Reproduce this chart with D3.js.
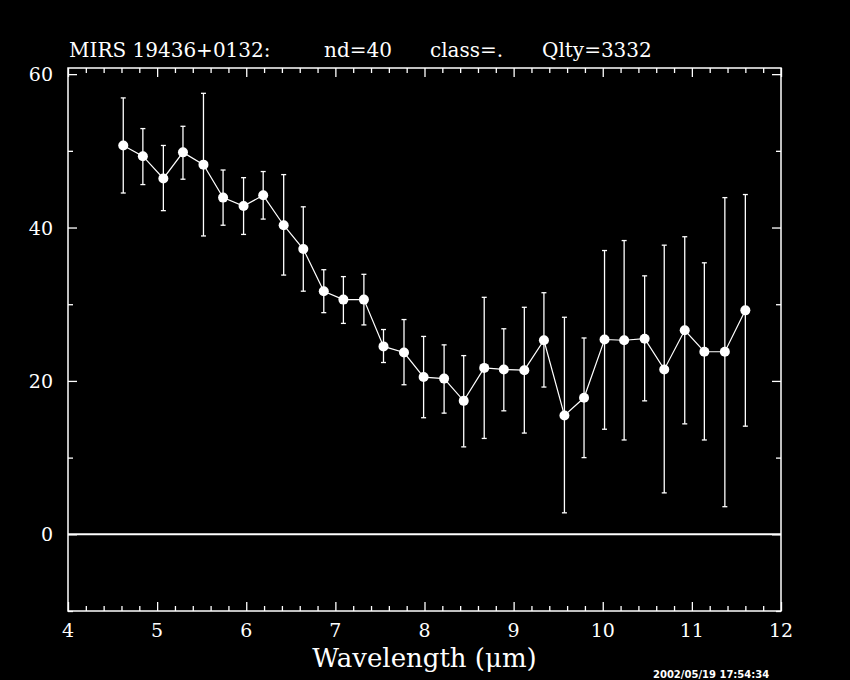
<!DOCTYPE html>
<html>
  <head>
    <title>MIRS 19436+0132</title>
    <script src="https://d3js.org/d3.v7.min.js"></script>
    <style>
      body { margin: 0; background: #000; }
      svg { display: block; background: #000; }
    </style>
  </head>

  <body>
    <svg width="850" height="680"></svg>

    <script type="text/javascript">
      // wavelength (um), flux, error bar top, error bar bottom
      var wavelength = [4.62, 4.84, 5.07, 5.29, 5.52, 5.74, 5.97, 6.19, 6.42, 6.64, 6.87, 7.09,
        7.32, 7.54, 7.77, 7.99, 8.22, 8.44, 8.67, 8.89, 9.12, 9.34, 9.57, 9.79,
        10.02, 10.24, 10.47, 10.69, 10.92, 11.14, 11.37, 11.60];
      var flux = [50.7, 49.3, 46.4, 49.8, 48.2, 43.9, 42.8, 44.2, 40.3, 37.2, 31.7, 30.6,
        30.6, 24.5, 23.7, 20.5, 20.3, 17.4, 21.7, 21.5, 21.4, 25.3, 15.5, 17.8,
        25.4, 25.3, 25.5, 21.5, 26.6, 23.8, 23.8, 29.2];
      var errTop = [56.9, 52.9, 50.7, 53.2, 57.5, 47.5, 46.5, 47.3, 46.9, 42.7, 34.5, 33.6,
        33.9, 26.7, 28.0, 25.8, 24.7, 23.3, 30.9, 26.8, 29.6, 31.5, 28.3, 25.6,
        37.0, 38.3, 33.7, 37.7, 38.8, 35.4, 43.9, 44.3];
      var errBottom = [44.5, 45.6, 42.2, 46.3, 38.9, 40.3, 39.1, 41.1, 33.8, 31.7, 28.9, 27.5,
        27.3, 22.4, 19.5, 15.2, 15.8, 11.4, 12.5, 16.1, 13.2, 19.2, 2.8, 10.0,
        13.7, 12.3, 17.4, 5.4, 14.4, 12.3, 3.6, 14.1];

      var xMajor = [4, 5, 6, 7, 8, 9, 10, 11, 12];
      var xMinor = [4.2, 4.4, 4.6, 4.8, 5.2, 5.4, 5.6, 5.8, 6.2, 6.4, 6.6, 6.8, 7.2, 7.4, 7.6, 7.8,
        8.2, 8.4, 8.6, 8.8, 9.2, 9.4, 9.6, 9.8, 10.2, 10.4, 10.6, 10.8, 11.2, 11.4, 11.6, 11.8];
      var yMajor = [0, 20, 40, 60];
      var yMinor = [-10, 10, 30, 50];

      var titleParts = ["MIRS 19436+0132:", "nd=40", "class=.", "Qlty=3332"];
      var titleX = [69, 324, 430, 542];

      var data = wavelength.map(function (w, i) {
        return { w: w, f: flux[i], hi: errTop[i], lo: errBottom[i] };
      });

      var svg = d3.select("svg");
      var x = d3.scaleLinear().domain([4, 12]).range([68, 781]);
      var y = d3.scaleLinear().domain([-10, 60.8]).range([611, 68]);

      var serif = "'DejaVu Serif', 'Liberation Serif', serif";

      // axes: ticks point inward on all four sides
      function styleAxis(g) {
        g.select(".domain").remove();
        g.selectAll("line").attr("stroke", "#fff").attr("stroke-width", 1.3);
        g.selectAll("text").remove();
      }
      svg.append("g").attr("transform", "translate(0,611)")
        .call(d3.axisBottom(x).tickValues(xMajor).tickSize(-9)).call(styleAxis);
      svg.append("g").attr("transform", "translate(0,611)")
        .call(d3.axisBottom(x).tickValues(xMinor).tickSize(-5)).call(styleAxis);
      svg.append("g").attr("transform", "translate(0,68)")
        .call(d3.axisTop(x).tickValues(xMajor).tickSize(-9)).call(styleAxis);
      svg.append("g").attr("transform", "translate(0,68)")
        .call(d3.axisTop(x).tickValues(xMinor).tickSize(-5)).call(styleAxis);
      svg.append("g").attr("transform", "translate(68,0)")
        .call(d3.axisLeft(y).tickValues(yMajor).tickSize(-9)).call(styleAxis);
      svg.append("g").attr("transform", "translate(68,0)")
        .call(d3.axisLeft(y).tickValues(yMinor).tickSize(-5)).call(styleAxis);
      svg.append("g").attr("transform", "translate(781,0)")
        .call(d3.axisRight(y).tickValues(yMajor).tickSize(-9)).call(styleAxis);
      svg.append("g").attr("transform", "translate(781,0)")
        .call(d3.axisRight(y).tickValues(yMinor).tickSize(-5)).call(styleAxis);

      // frame
      svg.append("rect")
        .attr("x", x(4)).attr("y", y(60.8))
        .attr("width", x(12) - x(4)).attr("height", y(-10) - y(60.8))
        .attr("fill", "none").attr("stroke", "#fff").attr("stroke-width", 1.5);

      // zero line
      svg.append("line")
        .attr("x1", x(4)).attr("x2", x(12))
        .attr("y1", y(0)).attr("y2", y(0))
        .attr("stroke", "#fff").attr("stroke-width", 2);

      // tick labels
      svg.append("g").selectAll("text").data(xMajor).enter().append("text")
        .attr("x", function (d) { return x(d); })
        .attr("y", 637)
        .attr("text-anchor", "middle")
        .attr("fill", "#fff")
        .style("font-family", serif).style("font-size", "19px")
        .text(function (d) { return d; });
      svg.append("g").selectAll("text").data(yMajor).enter().append("text")
        .attr("x", 53)
        .attr("y", function (d) { return y(d) + 7; })
        .attr("text-anchor", "end")
        .attr("fill", "#fff")
        .style("font-family", serif).style("font-size", "19px")
        .text(function (d) { return d; });

      // error bars
      var bars = svg.append("g").selectAll("g").data(data).enter().append("g")
        .attr("stroke", "#fff").attr("stroke-width", 1.3);
      bars.append("line")
        .attr("x1", function (d) { return x(d.w); })
        .attr("x2", function (d) { return x(d.w); })
        .attr("y1", function (d) { return y(d.hi); })
        .attr("y2", function (d) { return y(d.lo); });
      bars.append("line")
        .attr("x1", function (d) { return x(d.w) - 2.5; })
        .attr("x2", function (d) { return x(d.w) + 2.5; })
        .attr("y1", function (d) { return y(d.hi); })
        .attr("y2", function (d) { return y(d.hi); });
      bars.append("line")
        .attr("x1", function (d) { return x(d.w) - 2.5; })
        .attr("x2", function (d) { return x(d.w) + 2.5; })
        .attr("y1", function (d) { return y(d.lo); })
        .attr("y2", function (d) { return y(d.lo); });

      // connecting line + points
      svg.append("path")
        .datum(data)
        .attr("fill", "none")
        .attr("stroke", "#fff")
        .attr("stroke-width", 1.2)
        .attr("d", d3.line()
          .x(function (d) { return x(d.w); })
          .y(function (d) { return y(d.f); }));
      svg.append("g").selectAll("circle").data(data).enter().append("circle")
        .attr("cx", function (d) { return x(d.w); })
        .attr("cy", function (d) { return y(d.f); })
        .attr("r", 5)
        .attr("fill", "#fff");

      // title
      svg.append("g").selectAll("text").data(titleParts).enter().append("text")
        .attr("x", function (d, i) { return titleX[i]; })
        .attr("y", 57)
        .attr("fill", "#fff")
        .style("font-family", serif).style("font-size", "20px")
        .text(function (d) { return d; });

      // x axis title
      svg.append("text")
        .attr("x", (x(4) + x(12)) / 2)
        .attr("y", 667)
        .attr("text-anchor", "middle")
        .attr("fill", "#fff")
        .style("font-family", serif).style("font-size", "26px")
        .text("Wavelength (μm)");

      // timestamp, bottom right
      svg.append("text")
        .attr("x", 653)
        .attr("y", 678)
        .attr("fill", "#fff")
        .style("font-family", "'DejaVu Sans', sans-serif")
        .style("font-size", "10px").style("font-weight", "bold")
        .text("2002/05/19 17:54:34");
    </script>
  </body>
</html>
